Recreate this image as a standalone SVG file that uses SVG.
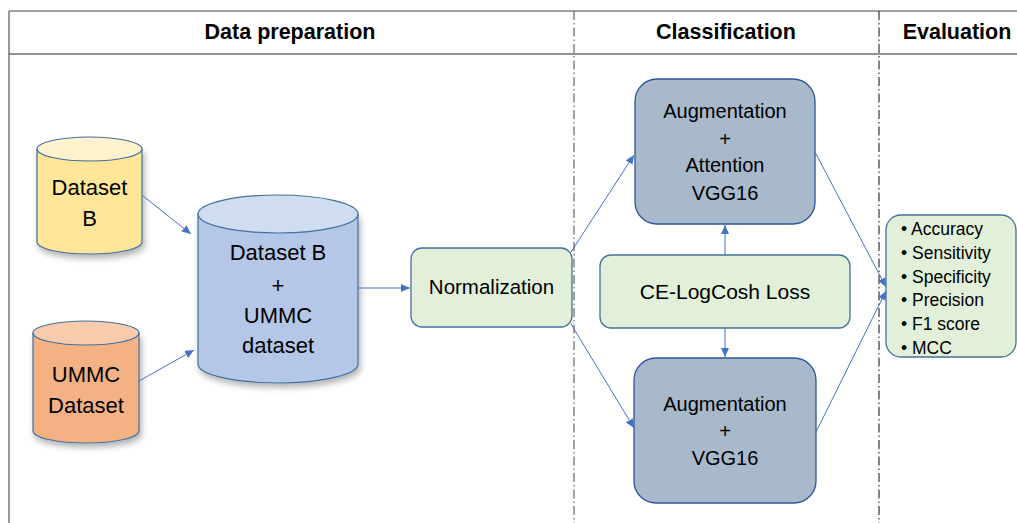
<svg xmlns="http://www.w3.org/2000/svg" width="1017" height="523" viewBox="0 0 1017 523">
  <style>
    .hdr { font-family: "Liberation Sans", Arial, sans-serif; font-weight: bold; font-size: 21.5px; fill: #000; text-anchor: middle; }
    .lbl { font-family: "Liberation Sans", Arial, sans-serif; font-size: 20px; fill: #000; text-anchor: middle; }
    .cyl { font-family: "Liberation Sans", Arial, sans-serif; font-size: 22px; fill: #000; text-anchor: middle; }
    .lst { font-family: "Liberation Sans", Arial, sans-serif; font-size: 17.5px; fill: #000; }
    .edge { fill: none; stroke: #4472C4; stroke-width: 1; }
    .green { fill: #E2F0D9; stroke: #41719C; stroke-width: 1.3; }
    .model { fill: #A8B9CB; stroke: #2F5597; stroke-width: 1.3; }
    .cstroke { stroke: #41719C; stroke-width: 1.2; }
  </style>
  <defs>
    <marker id="arrow" markerUnits="userSpaceOnUse" markerWidth="10" markerHeight="8" refX="9" refY="4" orient="auto">
      <path d="M0,0 L9,4 L0,8 Z" fill="#4472C4"/>
    </marker>
    <filter id="shadow" x="-20%" y="-20%" width="140%" height="140%">
      <feDropShadow dx="2" dy="4" stdDeviation="3" flood-color="#000" flood-opacity="0.3"/>
    </filter>
  </defs>

  <rect x="0" y="0" width="1017" height="523" fill="#fff"/>

  <!-- frame and section dividers -->
  <g id="frame">
    <line x1="9" y1="11" x2="1017" y2="11" stroke="#7f7f7f" stroke-width="1.6"/>
    <line x1="9" y1="11" x2="9" y2="523" stroke="#7f7f7f" stroke-width="1.6"/>
    <line x1="9" y1="54" x2="1017" y2="54" stroke="#262626" stroke-width="1.2"/>
    <line x1="574" y1="11" x2="574" y2="523" stroke="#7a7a7a" stroke-width="1.4" stroke-dasharray="9 3 1.5 3"/>
    <line x1="879" y1="11" x2="879" y2="523" stroke="#333" stroke-width="1.2" stroke-dasharray="9 3 1.5 3"/>
  </g>

  <g id="headers">
    <text class="hdr" x="290" y="39">Data preparation</text>
    <text class="hdr" x="726" y="39">Classification</text>
    <text class="hdr" x="957" y="39">Evaluation</text>
  </g>

  <!-- source datasets -->
  <g id="dataset-b">
    <path d="M37,149 L37,242 A52.5,12 0 0 0 142,242 L142,149 Z" fill="#FFE699" class="cstroke" filter="url(#shadow)"/>
    <ellipse cx="89.5" cy="149" rx="52.5" ry="12" fill="#FFF2CC" class="cstroke"/>
    <text class="cyl" x="89.5" y="195">Dataset</text>
    <text class="cyl" x="89.5" y="226">B</text>
  </g>

  <g id="ummc-dataset">
    <path d="M33,333 L33,431 A53,12 0 0 0 139,431 L139,333 Z" fill="#F4B183" class="cstroke" filter="url(#shadow)"/>
    <ellipse cx="86" cy="333" rx="53" ry="12" fill="#F8CBAD" class="cstroke"/>
    <text class="cyl" x="86" y="382">UMMC</text>
    <text class="cyl" x="86" y="413">Dataset</text>
  </g>

  <g id="merged-dataset">
    <path d="M198,214 L198,364 A80,19 0 0 0 358,364 L358,214 Z" fill="#B4C7E7" class="cstroke" filter="url(#shadow)"/>
    <ellipse cx="278" cy="214" rx="80" ry="19" fill="#D0DCF0" class="cstroke"/>
    <text class="cyl" x="278" y="260">Dataset B</text>
    <text class="cyl" x="278" y="293">+</text>
    <text class="cyl" x="278" y="323">UMMC</text>
    <text class="cyl" x="278" y="353">dataset</text>
  </g>

  <g id="normalization">
    <rect x="411" y="248" width="161" height="79" rx="11" class="green"/>
    <text class="lbl" x="491.5" y="294" style="font-size:20.5px">Normalization</text>
  </g>

  <!-- models -->
  <g id="attention-vgg16">
    <rect x="635" y="79" width="180" height="145" rx="22" class="model"/>
    <text class="lbl" x="725" y="118">Augmentation</text>
    <text class="lbl" x="725" y="146">+</text>
    <text class="lbl" x="725" y="172">Attention</text>
    <text class="lbl" x="725" y="200">VGG16</text>
  </g>

  <g id="ce-logcosh-loss">
    <rect x="600" y="255" width="250" height="73" rx="11" class="green"/>
    <text class="lbl" x="725" y="299" style="font-size:21px">CE-LogCosh Loss</text>
  </g>

  <g id="vgg16">
    <rect x="634" y="358" width="182" height="145" rx="22" class="model"/>
    <text class="lbl" x="725" y="411">Augmentation</text>
    <text class="lbl" x="725" y="438">+</text>
    <text class="lbl" x="725" y="465">VGG16</text>
  </g>

  <!-- evaluation metrics -->
  <g id="metrics">
    <rect x="886" y="215" width="130" height="142" rx="15" class="green"/>
    <text class="lst" x="901" y="235">• Accuracy</text>
    <text class="lst" x="901" y="259">• Sensitivity</text>
    <text class="lst" x="901" y="283">• Specificity</text>
    <text class="lst" x="901" y="306">• Precision</text>
    <text class="lst" x="901" y="330">• F1 score</text>
    <text class="lst" x="901" y="354">• MCC</text>
  </g>

  <g id="connectors">
    <line class="edge" x1="143" y1="196" x2="191" y2="234" marker-end="url(#arrow)"/>
    <line class="edge" x1="139" y1="381" x2="194" y2="350" marker-end="url(#arrow)"/>
    <line class="edge" x1="358" y1="288" x2="410" y2="288" marker-end="url(#arrow)"/>
    <line class="edge" x1="571" y1="252" x2="634" y2="155" marker-end="url(#arrow)"/>
    <line class="edge" x1="571" y1="324" x2="634" y2="428" marker-end="url(#arrow)"/>
    <line class="edge" x1="725" y1="255" x2="725" y2="225" marker-end="url(#arrow)"/>
    <line class="edge" x1="725" y1="328" x2="725" y2="357" marker-end="url(#arrow)"/>
    <line class="edge" x1="815" y1="152" x2="886" y2="287" marker-end="url(#arrow)"/>
    <line class="edge" x1="816" y1="432" x2="886" y2="291" marker-end="url(#arrow)"/>
  </g>
</svg>
